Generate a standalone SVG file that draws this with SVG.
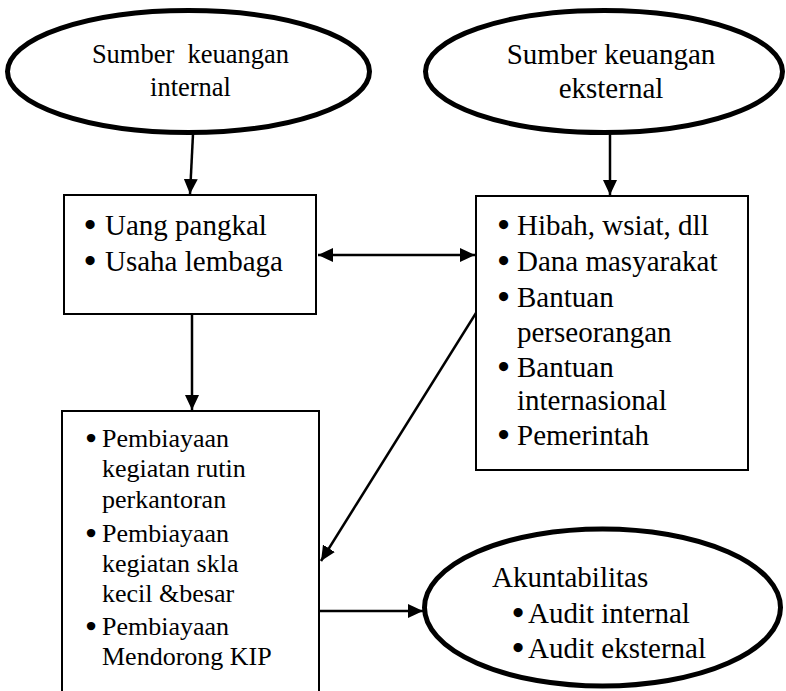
<svg xmlns="http://www.w3.org/2000/svg" width="786" height="691" viewBox="0 0 786 691">
  <style>
    .oval { fill: #fff; stroke: #000; stroke-width: 5; }
    .box { fill: #fff; stroke: #000; stroke-width: 2; }
    text { fill: #000; font-family: 'Liberation Serif', 'Times New Roman', serif; }
    .lg { font-size: 29px; }
    .md { font-size: 26px; }
    .dot { stroke: #000; stroke-width: 2.2; }
    .edge { stroke: #000; stroke-width: 2.5; fill: none; }
  </style>
  <defs>
    <marker id="arrow" viewBox="0 0 15 14" refX="15" refY="7" markerWidth="15" markerHeight="14" markerUnits="userSpaceOnUse" orient="auto-start-reverse">
      <path d="M0,0 L15,7 L0,14 Z" fill="#000"/>
    </marker>
  </defs>
  <rect width="786" height="691" fill="#fff"/>

  <g id="internal-source">
    <ellipse class="oval" cx="188.5" cy="71.5" rx="181" ry="61"/>
    <text x="190.5" y="63" text-anchor="middle" xml:space="preserve" style="font-size:26.5px">Sumber  keuangan</text>
    <text x="190.5" y="96" text-anchor="middle" style="font-size:26.5px">internal</text>
  </g>

  <g id="external-source">
    <ellipse class="oval" cx="604" cy="71.5" rx="178.5" ry="61"/>
    <text class="lg" x="611" y="64" text-anchor="middle">Sumber keuangan</text>
    <text class="lg" x="611" y="98" text-anchor="middle">eksternal</text>
  </g>

  <g id="internal-items">
    <rect class="box" x="64" y="195" width="252" height="119"/>
    <text class="lg" y="235"><tspan class="dot" x="85">•</tspan><tspan x="105">Uang pangkal</tspan></text>
    <text class="lg" y="271"><tspan class="dot" x="85">•</tspan><tspan x="105">Usaha lembaga</tspan></text>
  </g>

  <g id="external-items">
    <rect class="box" x="476" y="196" width="272" height="274"/>
    <text class="lg" y="235"><tspan class="dot" x="498.5">•</tspan><tspan x="517">Hibah, wsiat, dll</tspan></text>
    <text class="lg" y="271"><tspan class="dot" x="498.5">•</tspan><tspan x="517">Dana masyarakat</tspan></text>
    <text class="lg"><tspan class="dot" x="498.5" y="307">•</tspan><tspan x="517" y="307">Bantuan</tspan><tspan x="517" y="342">perseorangan</tspan></text>
    <text class="lg"><tspan class="dot" x="498.5" y="377">•</tspan><tspan x="517" y="377">Bantuan</tspan><tspan x="517" y="410">internasional</tspan></text>
    <text class="lg" y="445"><tspan class="dot" x="498.5">•</tspan><tspan x="517">Pemerintah</tspan></text>
  </g>

  <g id="spending">
    <rect class="box" x="62" y="411" width="257" height="290"/>
    <text class="md"><tspan class="dot" x="86.5" y="447">•</tspan><tspan x="102" y="447">Pembiayaan</tspan><tspan x="102" y="477">kegiatan rutin</tspan><tspan x="102" y="508">perkantoran</tspan></text>
    <text class="md"><tspan class="dot" x="86.5" y="542">•</tspan><tspan x="102" y="542">Pembiayaan</tspan><tspan x="102" y="572">kegiatan skla</tspan><tspan x="102" y="602">kecil &amp;besar</tspan></text>
    <text class="md"><tspan class="dot" x="86.5" y="635">•</tspan><tspan x="102" y="635">Pembiayaan</tspan><tspan x="102" y="665">Mendorong KIP</tspan></text>
  </g>

  <g id="accountability">
    <ellipse class="oval" cx="602.5" cy="607.5" rx="178" ry="78.5"/>
    <text class="lg" x="492" y="587">Akuntabilitas</text>
    <text class="lg" y="623"><tspan class="dot" x="513">•</tspan><tspan x="528">Audit internal</tspan></text>
    <text class="lg" y="658"><tspan class="dot" x="513">•</tspan><tspan x="528">Audit eksternal</tspan></text>
  </g>

  <g id="connectors">
    <line class="edge" x1="193" y1="134" x2="190" y2="194" marker-end="url(#arrow)"/>
    <line class="edge" x1="610" y1="134" x2="610" y2="195" marker-end="url(#arrow)"/>
    <line class="edge" x1="318" y1="255" x2="475" y2="255" marker-start="url(#arrow)" marker-end="url(#arrow)"/>
    <line class="edge" x1="192" y1="315" x2="192" y2="410" marker-end="url(#arrow)"/>
    <line class="edge" x1="476" y1="313" x2="321" y2="561" marker-end="url(#arrow)"/>
    <line class="edge" x1="320" y1="611" x2="423" y2="611" marker-end="url(#arrow)"/>
  </g>
</svg>
